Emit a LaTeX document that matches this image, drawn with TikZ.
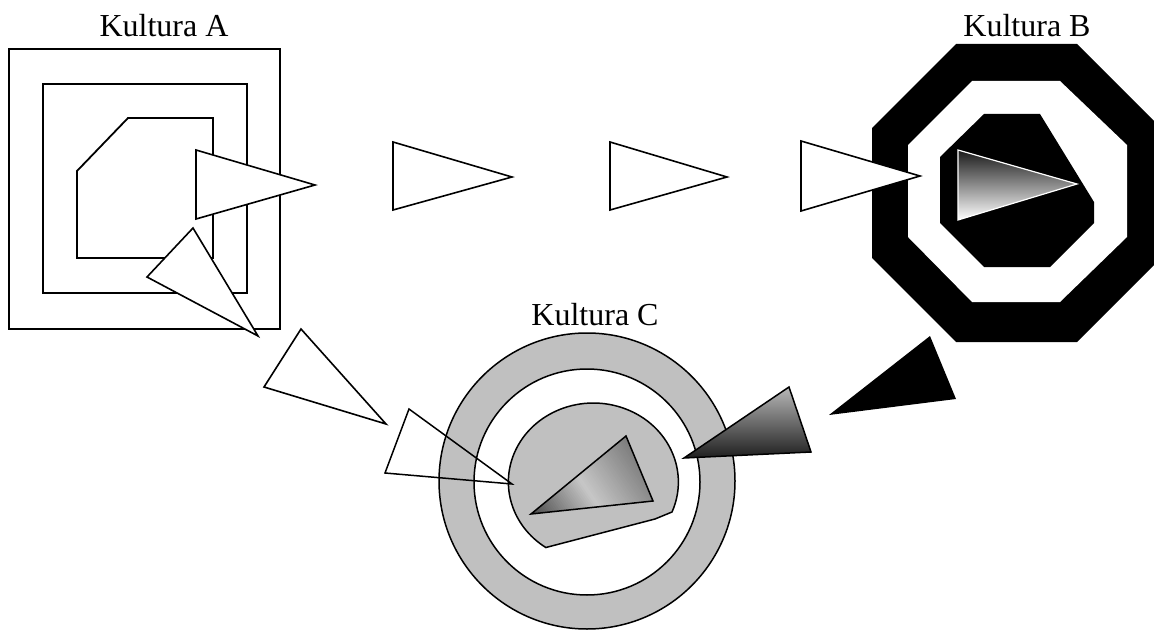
\documentclass[tikz,border=0pt]{standalone}
\usepackage{fontspec}
\setmainfont{Liberation Serif}
\definecolor{cgray}{HTML}{C0C0C0}
\tikzset{
  abox/.style={draw=black, line width=1.8pt, line join=miter},
  wtri/.style={draw=black, fill=white, line width=1.6pt, line join=miter},
  cline/.style={draw=black, line width=1.5pt, line join=miter},
  lbl/.style={font=\fontsize{32}{36}\selectfont, anchor=base, inner sep=0pt}
}
\begin{document}
\begin{tikzpicture}[x=1pt,y=-1pt]
\useasboundingbox (0,0) rectangle (1154,631);
% Kultura A
\node[lbl] (ka) at (164,37) {Kultura A};
\draw[abox] (9,49) rectangle (280,329);
\draw[abox] (43,84) rectangle (247,293);
\draw[abox] (128,118) -- (213,118) -- (213,258) -- (77,258) -- (77,171) -- cycle;
\draw[wtri] (196,150) -- (315,185) -- (196,219) -- cycle;
\draw[wtri] (193,228) -- (147,277) -- (258,336) -- cycle;
% row of arrows
\draw[wtri] (393,142) -- (512,177) -- (393,210) -- cycle;
\draw[wtri] (610,142) -- (727,177) -- (610,210) -- cycle;
% Kultura B
\node[lbl] (kb) at (1027,37) {Kultura B};
\fill[black] (956,44) -- (1077,44) -- (1161,128) -- (1161,258) -- (1077,342) -- (956,342) -- (872,258) -- (872,128) -- cycle;
\fill[white] (972,81) -- (1060,81) -- (1127,145) -- (1127,237) -- (1060,302) -- (972,302) -- (908,237) -- (908,145) -- cycle;
\fill[black] (984,114) -- (1040,114) -- (1094,202) -- (1094,223) -- (1050,267) -- (984,267) -- (940,223) -- (940,157) -- cycle;
\shade[top color=black!90, bottom color=white, draw=white, line width=1.2pt] (958,150) -- (1077,184) -- (958,220) -- cycle;
\draw[wtri] (801,141) -- (920,176) -- (801,211) -- cycle;
% Kultura C
\node[lbl] (kc) at (595,325) {Kultura C};
\draw[cline, fill=cgray] (587,481) circle[radius=148];
\draw[cline, fill=white] (587,482) circle[radius=113];
\draw[cline, fill=cgray] (672,512) arc[start angle=22.3, end angle=-236, x radius=85, y radius=79] -- (655,519) -- cycle;
\begin{scope}
\clip (626,436) -- (653,501) -- (531,514) -- cycle;
\foreach \i in {0,...,66}{
  \pgfmathsetmacro\ta{-4+\i*2}
  \pgfmathsetmacro\tb{\ta+2.6}
  \pgfmathsetmacro\tm{\ta+1}
  \pgfmathsetmacro\cc{\tm<60 ? 72-50*\tm/60 : 22+30*(\tm-60)/63}
  \fill[black!\cc] ({531+\ta*0.827-150*0.562},{514-\ta*0.562-150*0.827})
    -- ({531+\tb*0.827-150*0.562},{514-\tb*0.562-150*0.827})
    -- ({531+\tb*0.827+150*0.562},{514-\tb*0.562+150*0.827})
    -- ({531+\ta*0.827+150*0.562},{514-\ta*0.562+150*0.827}) -- cycle;
}
\end{scope}
\draw[cline] (626,436) -- (653,501) -- (531,514) -- cycle;
\draw[cline] (409,409) -- (512,484) -- (385,473) -- cycle;
\draw[wtri] (301,329) -- (386,424) -- (264,387) -- cycle;
\shade[top color=black!28, bottom color=black!88, draw=black, line width=1.5pt] (789,387) -- (811,452) -- (684,458) -- cycle;
\fill[black] (930,336) -- (956,399) -- (829,415) -- cycle;
\end{tikzpicture}
\end{document}
